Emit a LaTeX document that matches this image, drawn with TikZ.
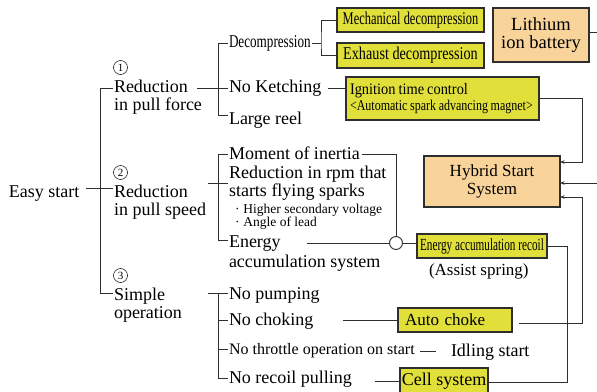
\documentclass[tikz,border=0pt]{standalone}
\usepackage{fontspec}
\setmainfont{Liberation Serif}
\usepackage{graphicx}
\usetikzlibrary{arrows.meta,calc}
\definecolor{ybox}{HTML}{E1E03A}
\definecolor{pbox}{HTML}{F8D49B}
\definecolor{lc}{HTML}{2E2E2E}
\newcommand\fsz[1]{\fontsize{#1}{#1}\selectfont}
\newcommand\hsc[2]{\scalebox{#1}[1]{#2}}
\begin{document}
\begin{tikzpicture}[x=1pt,y=-1pt,
 txt/.style={anchor=base west, inner sep=0pt, outer sep=1pt, text=black, font=\fsz{18}},
 ln/.style={draw=lc, line width=0.95pt},
 arr/.style={ln, -{Stealth[length=4.5pt,width=3.5pt]}},
 boxbase/.style={draw=lc, line width=1.2pt, inner sep=0pt, outer sep=0pt, anchor=north west, text=black},
 yb/.style={boxbase, fill=ybox},
 pb/.style={boxbase, fill=pbox},
 cn/.style={circle, draw=black, line width=0.5pt, inner sep=0pt, minimum size=14pt, font=\fsz{11}}
]
\useasboundingbox (0,0) rectangle (597,391);

% ---- left column
\node[txt] (es) at (8,197) {Easy start};
\node[cn] (c1) at (120.5,67.5) {1};
\node[txt] (rf1) at (113,92) {Reduction};
\node[txt] (rf2) at (113,110) {in pull force};
\node[cn] (c2) at (120.5,172.5) {2};
\node[txt] (rs1) at (113,197) {Reduction};
\node[txt] (rs2) at (113,215) {in pull speed};
\node[cn] (c3) at (120.5,275.5) {3};
\node[txt] (so1) at (113,300) {Simple};
\node[txt] (so2) at (113,318) {operation};

% ---- group 1
\node[txt] (dec) at (228,47) {\hsc{0.73}{Decompression}};
\node[txt] (nk) at (228,92) {No Ketching};
\node[txt] (lr) at (228,124) {Large reel};

% ---- group 2
\node[txt] (mi) at (228,159) {Moment of inertia};
\node[txt] (rr1) at (228,178.5) {Reduction in rpm that};
\node[txt] (rr2) at (228,196.5) {starts flying sparks};
\node[txt, font=\fsz{13.5}] (hv) at (234,213) {·\hspace{4pt}Higher secondary voltage};
\node[txt, font=\fsz{13.5}] (al) at (234,226) {·\hspace{4pt}Angle of lead};
\node[txt] (en1) at (228,247) {Energy};
\node[txt] (en2) at (228,267) {accumulation system};

% ---- group 3
\node[txt] (np) at (228,299) {No pumping};
\node[txt] (nc) at (228,325) {No choking};
\node[txt, font=\fsz{16}] (nt) at (228,354) {No throttle operation on start};
\node[txt] (nr) at (228,383) {No recoil pulling};
\node[txt] (is) at (450,356) {Idling start};
\node[txt, font=\fsz{17}] (as) at (428,275) {(Assist spring)};

% ---- boxes
\node[yb, minimum width=147pt, minimum height=24pt, font=\fsz{18}] (mech) at (337,8) {\hsc{0.69}{Mechanical decompression}};
\node[yb, minimum width=147pt, minimum height=25pt, font=\fsz{18}] (exh) at (337,43) {\hsc{0.79}{Exhaust decompression}};
\node[pb, minimum width=96pt, minimum height=54pt, align=center, font=\fsz{18.5}] (lib) at (493,8) {Lithium\\ion battery};
\node[yb, minimum width=193pt, minimum height=43pt, text width=185pt, align=left] (ign) at (346,77)
  {{\fsz{16}\hsc{0.9}{Ignition time control}}\\[1pt]{\fsz{15}\hsc{0.8}{<Automatic spark advancing magnet>}}};
\node[pb, minimum width=136pt, minimum height=51pt, align=center, font=\fsz{17}] (hyb) at (424,156) {Hybrid Start\\[1pt]System};
\node[yb, minimum width=130pt, minimum height=24pt, font=\fsz{17}] (er) at (417,234) {\hsc{0.66}{Energy accumulation recoil}};
\node[yb, minimum width=114pt, minimum height=24pt, text width=100pt, align=left, font=\fsz{17}] (ac) at (398,308) {Auto choke};
\node[yb, minimum width=88pt, minimum height=26pt, font=\fsz{18}] (cell) at (400,368) {Cell system};

% ---- junction circle
\node[circle, draw=lc, fill=white, line width=0.95pt, minimum size=13pt, inner sep=0pt] (jc) at (396,243) {};

% ---- coordinates
\coordinate (T0) at (86,188);
\coordinate (T1) at (100,88);
\coordinate (T2) at (100,188);
\coordinate (T3) at (100,293);
\coordinate (P1) at (197,88);
\coordinate (J1t) at (218,43);
\coordinate (J1b) at (218,115);
\coordinate (J2) at (321,43);
\coordinate (J3t) at (218,154);
\coordinate (J3b) at (218,240);
\coordinate (P2) at (208,183);
\coordinate (M1) at (396,154);
\coordinate (E1) at (307,243);
\coordinate (P3) at (208,293);
\coordinate (J4c) at (218,320);
\coordinate (J4d) at (218,349);
\coordinate (J4b) at (218,378);
\coordinate (D1) at (420,351);
\coordinate (R1) at (582,98);
\coordinate (R2) at (582,162);
\coordinate (Hin) at (597,183);
\coordinate (R3) at (582,323);
\coordinate (R4) at (582,197);
\coordinate (R5) at (567,246);
\coordinate (R6) at (567,382);
\coordinate (Lout) at (597,32);

% ---- trunk
\draw[ln] (T0) -- (T2 -| rs1.west);
\draw[ln] (rf1.west |- T1) -- (T1) -- (T3) -- (so1.west |- T3);

% ---- tree 1
\draw[ln] (P1) -- (P1 -| nk.west);
\draw[ln] (dec.west |- J1t) -- (J1t) -- (J1b) -- (lr.west |- J1b);
\draw[ln] (dec.east |- J2) -- (J2);
\draw[ln] (mech.west) -| (J2) |- (exh.west);
\draw[ln] ([xshift=6pt]nk.east |- P1) -- (ign.west |- P1);

% ---- tree 2
\draw[ln] (mi.west |- J3t) -- (J3t) -- (J3b) -- (en1.west |- J3b);
\draw[ln] (P2) -- (P2 -| rr1.west);
\draw[ln] ([xshift=1pt]mi.east |- M1) -- (M1) -- (jc.north);
\draw[ln] (E1) -- (jc.west);
\draw[ln] (jc.east) -- (er.west |- jc.east);

% ---- tree 3
\draw[ln] (P3) -- (P3 -| np.west);
\draw[ln] (J3t |- P3) -- (J4b) -- (nr.west |- J4b);
\draw[ln] (J4c) -- (J4c -| nc.west);
\draw[ln] (J4d) -- (J4d -| nt.west);
\draw[ln] ([xshift=29pt]nc.east |- ac.west) -- (ac.west);
\draw[ln] (D1) -- ([xshift=-14pt]is.west |- D1);
\draw[ln] ([xshift=22pt]nr.east |- cell.west) -- (cell.west);

% ---- right side connectors
\draw[ln] (lib.east |- Lout) -- (Lout);
\draw[arr] (ign.east |- R1) -- (R1) -- (R2) -- (R2 -| hyb.east);
\draw[arr] (Hin) -- (Hin -| hyb.east);
\draw[arr] ([xshift=7pt]ac.east |- R3) -- (R3) -- (R4) -- (R4 -| hyb.east);
\draw[ln] (er.east |- R5) -- (R5) -- (R6) -- (R6 -| cell.east);
\end{tikzpicture}
\end{document}
